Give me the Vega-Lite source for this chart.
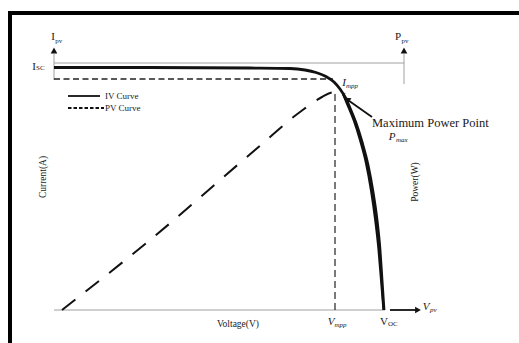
{
  "$schema": "https://vega.github.io/schema/vega-lite/v6.json",
  "width": 519,
  "height": 343,
  "autosize": {"type": "none"},
  "padding": 0,
  "background": "#ffffff",
  "config": {"view": {"stroke": null}, "text": {"font": "Liberation Serif", "color": "#1a1a1a"}},
  "datasets": {
    "iv": [
      {"v": 0, "i": 24.25}, {"v": 9.6, "i": 24.25}, {"v": 19.6, "i": 24.2}, {"v": 23.6, "i": 24.15},
      {"v": 25.1, "i": 24.0}, {"v": 26.2, "i": 23.75}, {"v": 27.2, "i": 23.35}, {"v": 28.0, "i": 22.8},
      {"v": 28.6, "i": 22.1}, {"v": 29.1, "i": 21.3}, {"v": 29.6, "i": 20.2}, {"v": 30.2, "i": 18.7},
      {"v": 30.8, "i": 16.8}, {"v": 31.4, "i": 14.5}, {"v": 31.9, "i": 11.8}, {"v": 32.3, "i": 9.0},
      {"v": 32.6, "i": 6.0}, {"v": 32.8, "i": 3.0}, {"v": 33.0, "i": 0}
    ],
    "pv": [
      {"v": 0.8, "p": 0}, {"v": 9.6, "p": 7.0}, {"v": 20.1, "p": 16.0}, {"v": 24.6, "p": 19.8},
      {"v": 26.8, "p": 21.3}, {"v": 27.8, "p": 21.75}, {"v": 28.6, "p": 21.8}, {"v": 29.1, "p": 21.6}
    ],
    "pvDrop": [
      {"v": 28.9, "p": 21.6}, {"v": 29.4, "p": 20.4}, {"v": 30.0, "p": 18.9}, {"v": 30.6, "p": 17.0},
      {"v": 31.2, "p": 14.7}, {"v": 31.7, "p": 12.0}, {"v": 32.1, "p": 9.2}, {"v": 32.45, "p": 6.1},
      {"v": 32.7, "p": 3.1}, {"v": 32.95, "p": 0}
    ],
    "frame": [
      {"x": -4.4, "x2": -4.4, "y": -3.3, "y2": 29.9},
      {"x": -4.6, "x2": 46.5, "y": 29.7, "y2": 29.7}
    ],
    "grayLines": [
      {"x": 0, "x2": 33.1, "y": 0, "y2": 0},
      {"x": 0, "x2": 35, "y": 24.7, "y2": 24.7},
      {"x": 0, "x2": 0, "y": 23.0, "y2": 25.6},
      {"x": 35, "x2": 35, "y": 22.6, "y2": 25.6}
    ],
    "imppLine": [{"x": 0, "x2": 27.9, "y": 23.1, "y2": 23.1}],
    "vmppLine": [{"x": 28.1, "x2": 28.1, "y": 0, "y2": 21.8}],
    "darkLines": [
      {"x": 33.6, "x2": 36.2, "y": 0, "y2": 0},
      {"x": 29.1, "x2": 31.8, "y": 21.2, "y2": 19.3},
      {"x": 1.4, "x2": 4.6, "y": 21.4, "y2": 21.4}
    ],
    "legendDash": [{"x": 1.4, "x2": 5.0, "y": 20.2, "y2": 20.2}],
    "upArrows": [{"x": 0, "y": 25.95}, {"x": 35, "y": 25.95}],
    "rightArrow": [{"x": 36.4, "y": 0}],
    "mppArrow": [{"x": 29.25, "y": 21.05}],
    "bigLetters": [
      {"x": -0.1, "y": 27.3, "t": "I"},
      {"x": -2.0, "y": 24.3, "t": "I"},
      {"x": 34.4, "y": 27.3, "t": "P"},
      {"x": 33.0, "y": -1.2, "t": "V"}
    ],
    "subs": [
      {"x": 0.12, "y": 26.95, "t": "pv"},
      {"x": -1.8, "y": 24.2, "t": "SC"},
      {"x": 34.75, "y": 26.95, "t": "pv"},
      {"x": 33.4, "y": -1.35, "t": "OC"}
    ],
    "italicLetters": [
      {"x": 29.0, "y": 22.75, "t": "I"},
      {"x": 33.8, "y": 17.3, "t": "P"},
      {"x": 27.7, "y": -1.2, "t": "V"},
      {"x": 37.2, "y": 0.3, "t": "V"}
    ],
    "italicSubs": [
      {"x": 29.2, "y": 22.45, "t": "mpp"},
      {"x": 34.2, "y": 17.0, "t": "max"},
      {"x": 28.05, "y": -1.45, "t": "mpp"},
      {"x": 37.6, "y": 0.0, "t": "pv"}
    ],
    "axisTitles": [{"x": 18.4, "y": -1.4, "t": "Voltage(V)"}],
    "vertTitles": [
      {"x": -1.1, "y": 13.3, "t": "Current(A)"},
      {"x": 36.1, "y": 12.8, "t": "Power(W)"}
    ],
    "mppLabel": [{"x": 31.8, "y": 18.75, "t": "Maximum  Power Point"}],
    "legendText": [
      {"x": 5.1, "y": 21.4, "t": "IV Curve"},
      {"x": 5.1, "y": 20.2, "t": "PV Curve"}
    ]
  },
  "layer": [
    {
      "data": {"name": "frame"},
      "mark": {"type": "rule", "color": "#000000", "strokeWidth": 4},
      "encoding": {
        "x": {"field": "x", "type": "quantitative", "scale": {"domain": [-5.4, 46.5], "nice": false, "zero": false}, "axis": null},
        "x2": {"field": "x2"},
        "y": {"field": "y", "type": "quantitative", "scale": {"domain": [-3.3, 31.0], "nice": false, "zero": false}, "axis": null},
        "y2": {"field": "y2"}
      }
    },
    {
      "data": {"name": "grayLines"},
      "mark": {"type": "rule", "color": "#a0a0a0", "strokeWidth": 1},
      "encoding": {"x": {"field": "x", "type": "quantitative"}, "x2": {"field": "x2"}, "y": {"field": "y", "type": "quantitative"}, "y2": {"field": "y2"}}
    },
    {
      "data": {"name": "imppLine"},
      "mark": {"type": "rule", "color": "#222222", "strokeWidth": 1.3, "strokeDash": [6, 3.5]},
      "encoding": {"x": {"field": "x", "type": "quantitative"}, "x2": {"field": "x2"}, "y": {"field": "y", "type": "quantitative"}, "y2": {"field": "y2"}}
    },
    {
      "data": {"name": "vmppLine"},
      "mark": {"type": "rule", "color": "#222222", "strokeWidth": 1.2, "strokeDash": [7, 4]},
      "encoding": {"x": {"field": "x", "type": "quantitative"}, "x2": {"field": "x2"}, "y": {"field": "y", "type": "quantitative"}, "y2": {"field": "y2"}}
    },
    {
      "data": {"name": "darkLines"},
      "mark": {"type": "rule", "color": "#111111", "strokeWidth": 1.8},
      "encoding": {"x": {"field": "x", "type": "quantitative"}, "x2": {"field": "x2"}, "y": {"field": "y", "type": "quantitative"}, "y2": {"field": "y2"}}
    },
    {
      "data": {"name": "legendDash"},
      "mark": {"type": "rule", "color": "#111111", "strokeWidth": 2, "strokeDash": [3.5, 2]},
      "encoding": {"x": {"field": "x", "type": "quantitative"}, "x2": {"field": "x2"}, "y": {"field": "y", "type": "quantitative"}, "y2": {"field": "y2"}}
    },
    {
      "data": {"name": "pv"},
      "mark": {"type": "line", "color": "#111111", "strokeWidth": 2, "strokeDash": [17, 13], "interpolate": "monotone"},
      "encoding": {"x": {"field": "v", "type": "quantitative"}, "y": {"field": "p", "type": "quantitative"}}
    },
    {
      "data": {"name": "pvDrop"},
      "mark": {"type": "line", "color": "#111111", "strokeWidth": 2.2, "interpolate": "monotone"},
      "encoding": {"x": {"field": "v", "type": "quantitative"}, "y": {"field": "p", "type": "quantitative"}}
    },
    {
      "data": {"name": "iv"},
      "mark": {"type": "line", "color": "#111111", "strokeWidth": 2.8, "interpolate": "monotone"},
      "encoding": {"x": {"field": "v", "type": "quantitative"}, "y": {"field": "i", "type": "quantitative"}}
    },
    {
      "data": {"name": "upArrows"},
      "mark": {"type": "point", "shape": "triangle-up", "filled": true, "color": "#111111", "size": 45, "opacity": 1},
      "encoding": {"x": {"field": "x", "type": "quantitative"}, "y": {"field": "y", "type": "quantitative"}}
    },
    {
      "data": {"name": "rightArrow"},
      "mark": {"type": "point", "shape": "triangle-right", "filled": true, "color": "#111111", "size": 45, "opacity": 1},
      "encoding": {"x": {"field": "x", "type": "quantitative"}, "y": {"field": "y", "type": "quantitative"}}
    },
    {
      "data": {"name": "mppArrow"},
      "mark": {"type": "point", "shape": "triangle-up", "filled": true, "color": "#111111", "size": 60, "angle": 305, "opacity": 1},
      "encoding": {"x": {"field": "x", "type": "quantitative"}, "y": {"field": "y", "type": "quantitative"}}
    },
    {
      "data": {"name": "bigLetters"},
      "mark": {"type": "text", "fontSize": 11, "align": "center", "baseline": "middle"},
      "encoding": {"x": {"field": "x", "type": "quantitative"}, "y": {"field": "y", "type": "quantitative"}, "text": {"field": "t"}}
    },
    {
      "data": {"name": "subs"},
      "mark": {"type": "text", "fontSize": 7, "align": "left", "baseline": "middle"},
      "encoding": {"x": {"field": "x", "type": "quantitative"}, "y": {"field": "y", "type": "quantitative"}, "text": {"field": "t"}}
    },
    {
      "data": {"name": "italicLetters"},
      "mark": {"type": "text", "fontSize": 11, "fontStyle": "italic", "align": "center", "baseline": "middle"},
      "encoding": {"x": {"field": "x", "type": "quantitative"}, "y": {"field": "y", "type": "quantitative"}, "text": {"field": "t"}}
    },
    {
      "data": {"name": "italicSubs"},
      "mark": {"type": "text", "fontSize": 7, "fontStyle": "italic", "align": "left", "baseline": "middle"},
      "encoding": {"x": {"field": "x", "type": "quantitative"}, "y": {"field": "y", "type": "quantitative"}, "text": {"field": "t"}}
    },
    {
      "data": {"name": "axisTitles"},
      "mark": {"type": "text", "fontSize": 9.5, "align": "center", "baseline": "middle"},
      "encoding": {"x": {"field": "x", "type": "quantitative"}, "y": {"field": "y", "type": "quantitative"}, "text": {"field": "t"}}
    },
    {
      "data": {"name": "vertTitles"},
      "mark": {"type": "text", "fontSize": 9.5, "angle": 270, "align": "center", "baseline": "middle"},
      "encoding": {"x": {"field": "x", "type": "quantitative"}, "y": {"field": "y", "type": "quantitative"}, "text": {"field": "t"}}
    },
    {
      "data": {"name": "mppLabel"},
      "mark": {"type": "text", "fontSize": 12.5, "align": "left", "baseline": "middle"},
      "encoding": {"x": {"field": "x", "type": "quantitative"}, "y": {"field": "y", "type": "quantitative"}, "text": {"field": "t"}}
    },
    {
      "data": {"name": "legendText"},
      "mark": {"type": "text", "fontSize": 9, "align": "left", "baseline": "middle"},
      "encoding": {"x": {"field": "x", "type": "quantitative"}, "y": {"field": "y", "type": "quantitative"}, "text": {"field": "t"}}
    }
  ]
}
